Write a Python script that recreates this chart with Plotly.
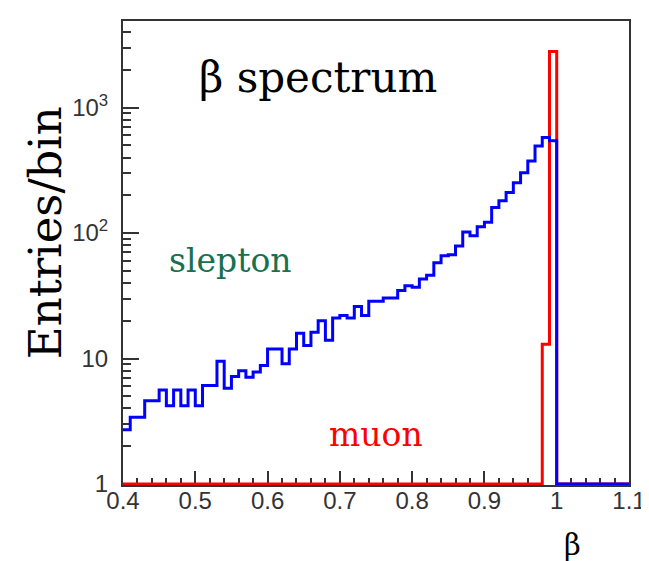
import plotly.graph_objects as go

# ---- data -------------------------------------------------------------
bin_width = 0.01
beta_bin_low = [round(0.40 + bin_width * i, 2) for i in range(70)]  # 0.40 ... 1.09

slepton_counts = [
    2.7, 3.4, 3.4, 4.6, 4.6, 5.6, 4.2, 5.6, 4.2, 5.6,      # 0.40-0.49
    4.2, 6.1, 6.1, 9.5, 5.8, 7.2, 8.0, 7.1, 7.8, 8.8,      # 0.50-0.59
    11.9, 11.9, 9.1, 11.9, 15.9, 12.7, 16.2, 20, 14, 21,   # 0.60-0.69
    22, 21, 26, 22, 28.6, 28.6, 30.4, 30.4, 34.8, 38,      # 0.70-0.79
    37, 43, 46, 58, 66, 67, 79, 102, 95, 112,              # 0.80-0.89
    122, 160, 181, 210, 252, 303, 376, 495, 577, 545,      # 0.90-0.99
    0, 0, 0, 0, 0, 0, 0, 0, 0, 0,                          # 1.00-1.09
]
muon_counts = [0] * 58 + [13, 2800] + [0] * 10

y_tick_vals = [1, 10, 100, 1000]
y_tick_text = ["1", "10", "10<sup>2</sup>", "10<sup>3</sup>"]
x_tick_vals = [0.4, 0.5, 0.6, 0.7, 0.8, 0.9, 1.0, 1.1]
x_tick_text = ["0.4", "0.5", "0.6", "0.7", "0.8", "0.9", "1", "1.1"]

Y_FLOOR = 1  # empty bins drawn on the axis floor (log scale)


def step_xy(counts):
    xs = beta_bin_low + [round(beta_bin_low[-1] + bin_width, 2)]
    ys = [max(c, Y_FLOOR) for c in counts]
    ys = ys + [ys[-1]]
    return xs, ys


fig = go.Figure()
mx, my = step_xy(muon_counts)
fig.add_trace(go.Scatter(x=mx, y=my, mode="lines", line=dict(color="#ff0000", width=3, shape="hv"),
                         hoverinfo="skip", showlegend=False))
sx, sy = step_xy(slepton_counts)
fig.add_trace(go.Scatter(x=sx, y=sy, mode="lines", line=dict(color="#0000ff", width=3, shape="hv"),
                         hoverinfo="skip", showlegend=False))

minor_y = [m * 10 ** e for e in range(0, 4) for m in range(2, 10) if m * 10 ** e < 5000]
minor_x = [round(0.4 + 0.02 * i, 2) for i in range(36)]

W, H = 649, 561
L, R, T, B = 115, 21, 11, 84

tickfont = dict(family="Liberation Sans, Arial", size=24, color="#333")
fig.update_layout(
    width=W, height=H,
    margin=dict(l=L, r=R, t=T, b=B),
    paper_bgcolor="white", plot_bgcolor="white",
    xaxis=dict(
        range=[0.4, 1.1], showgrid=False, zeroline=False,
        showline=True, linecolor="#333", linewidth=2, mirror=True,
        ticks="inside", ticklen=14, tickwidth=1.5, tickcolor="#333",
        tickvals=x_tick_vals, ticktext=x_tick_text, tickfont=tickfont,
        ticklabelstandoff=-7,
        minor=dict(tickvals=minor_x, ticks="inside", ticklen=7, tickwidth=1.5, tickcolor="#333"),
        layer="below traces",
    ),
    yaxis=dict(
        type="log", range=[-0.008, 3.69], showgrid=False, zeroline=False,
        showline=True, linecolor="#333", linewidth=2, mirror=True,
        ticks="inside", ticklen=16, tickwidth=1.5, tickcolor="#333",
        tickvals=y_tick_vals, ticktext=y_tick_text, tickfont=tickfont,
        ticklabelstandoff=8,
        minor=dict(tickvals=minor_y, ticks="inside", ticklen=8, tickwidth=1.5, tickcolor="#333"),
        layer="below traces",
    ),
)


def px(xp):
    return (xp - L) / (W - L - R)


def py(yp):
    return (H - B - yp) / (H - T - B)


serif = "DejaVu Serif, Liberation Serif, serif"
annots = [
    dict(text="β spectrum", x=px(313), y=py(68), size=42, color="black"),
    dict(text="slepton", x=px(224), y=py(252), size=33, color="#17714f"),
    dict(text="muon", x=px(371), y=py(426), size=33, color="#ff0000"),
    dict(text="β", x=px(571), y=py(537), size=29, color="black"),
]
for a in annots:
    fig.add_annotation(text=a["text"], x=a["x"], y=a["y"], xref="paper", yref="paper",
                       xanchor="center", yanchor="middle", showarrow=False,
                       font=dict(family=serif, size=a["size"], color=a["color"]))
fig.add_annotation(text="Entries/bin", x=px(36), y=py(224), xref="paper", yref="paper",
                   xanchor="center", yanchor="middle", showarrow=False, textangle=-90,
                   font=dict(family=serif, size=45, color="black"))

fig.write_html("out.html")
